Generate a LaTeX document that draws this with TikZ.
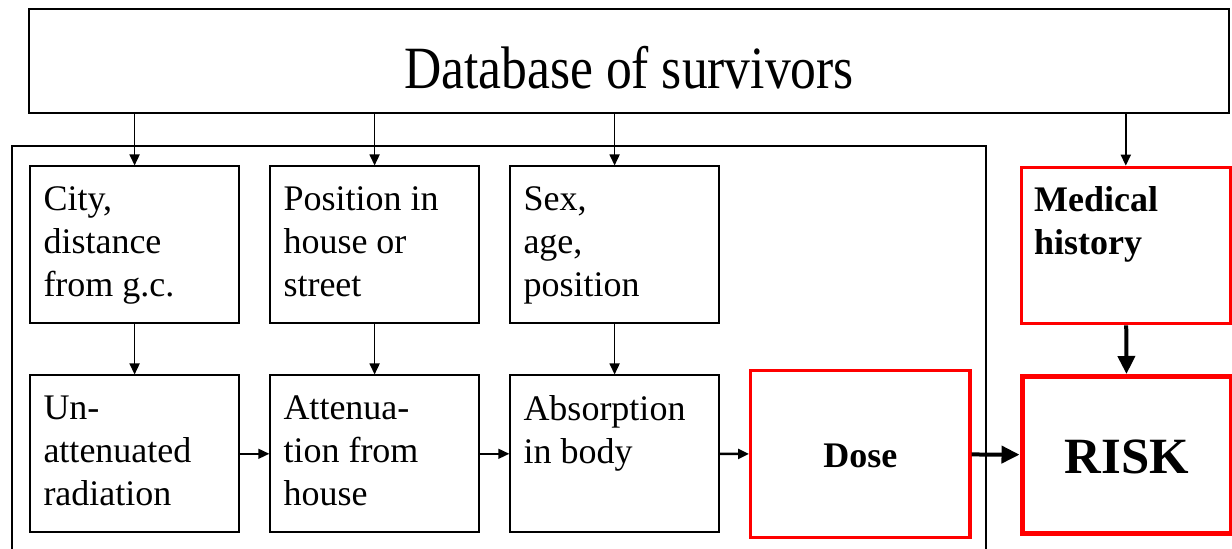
\documentclass[tikz,border=0pt]{standalone}
\usepackage{fontspec}
\setmainfont{Liberation Serif}
\newfontfamily\dbfont{Liberation Serif}[FakeStretch=0.86]
\usetikzlibrary{arrows.meta}

\tikzset{
  cell/.style={draw, line width=1pt, minimum width=104.3pt, minimum height=78.3pt,
    anchor=north west, inner sep=0pt},
  redcell/.style={cell, draw=red, font=\bfseries\fontsize{18}{21.5}\selectfont},
  txt/.style={anchor=north west, align=left, inner xsep=6.9pt, inner ysep=10.3pt,
    font=\fontsize{18}{21.5}\selectfont},
  thinarrow/.style={-{Triangle[length=5.5pt,width=5pt]}, line width=0.8pt},
  fatarrow/.style={-{Triangle[length=9pt,width=8.5pt]}, line width=2pt},
}

\begin{document}
\begin{tikzpicture}[x=0.5pt,y=-0.5pt]
\useasboundingbox (0,0) rectangle (1232,549);

% database on top
\node[draw, line width=1pt, minimum width=599.7pt, minimum height=52pt,
  text height=27.3pt, text depth=0pt, inner sep=0pt,
  font=\dbfont\fontsize{30}{36}\selectfont] (db) at (629,61) {Database of survivors};

% frame round the dose part
\draw[line width=0.9pt] (11.7,560) |- (986,145.7) -- (986,560);

% first row
\node[cell] (city) at (29.3,165.5) {};
\node[txt] at (city.north west) {City,\\distance\\from g.c.};
\node[cell] (place) at (269.3,165.5) {};
\node[txt] at (place.north west) {Position in\\house or\\street};
\node[cell] (sex) at (509.3,165.5) {};
\node[txt] at (sex.north west) {Sex,\\age,\\position};

% second row
\node[cell] (unatt) at (29.3,374.5) {};
\node[txt] at (unatt.north west) {Un-\\attenuated\\radiation};
\node[cell] (atten) at (269.3,374.5) {};
\node[txt] at (atten.north west) {Attenua-\\tion from\\house};
\node[cell] (absorb) at (509.3,374.5) {};
\node[txt] at (absorb.north west) {Absorption\\in body};

% red boxes
\node[redcell, line width=1.6pt, minimum width=109.7pt, minimum height=83.2pt,
  text height=14pt] (dose) at (749,369.3) {Dose};
\node[redcell, line width=1.5pt] (med) at (1020,165.7) {};
\node[txt, font=\bfseries\fontsize{18}{21.5}\selectfont] at (med.north west) {Medical\\history};
\node[redcell, line width=2.7pt, minimum width=104.7pt, text height=19pt,
  font=\bfseries\fontsize{25.4}{30}\selectfont] (risk) at (1019.5,374) {RISK};

% arrows
\draw[thinarrow] (db.south -| city.north) -- (city.north);
\draw[thinarrow] (db.south -| place.north) -- (place.north);
\draw[thinarrow] (db.south -| sex.north) -- (sex.north);
\draw[thinarrow] (db.south -| med.north) -- (med.north);

\draw[thinarrow] (city) -- (unatt);
\draw[thinarrow] (place) -- (atten);
\draw[thinarrow] (sex) -- (absorb);

\draw[thinarrow] (unatt) -- (atten);
\draw[thinarrow] (atten) -- (absorb);
\draw[thinarrow, line width=1.3pt] (absorb) -- (dose);

\draw[fatarrow] (dose) -- (risk);
\draw[fatarrow] (med) -- (risk);

\end{tikzpicture}
\end{document}
